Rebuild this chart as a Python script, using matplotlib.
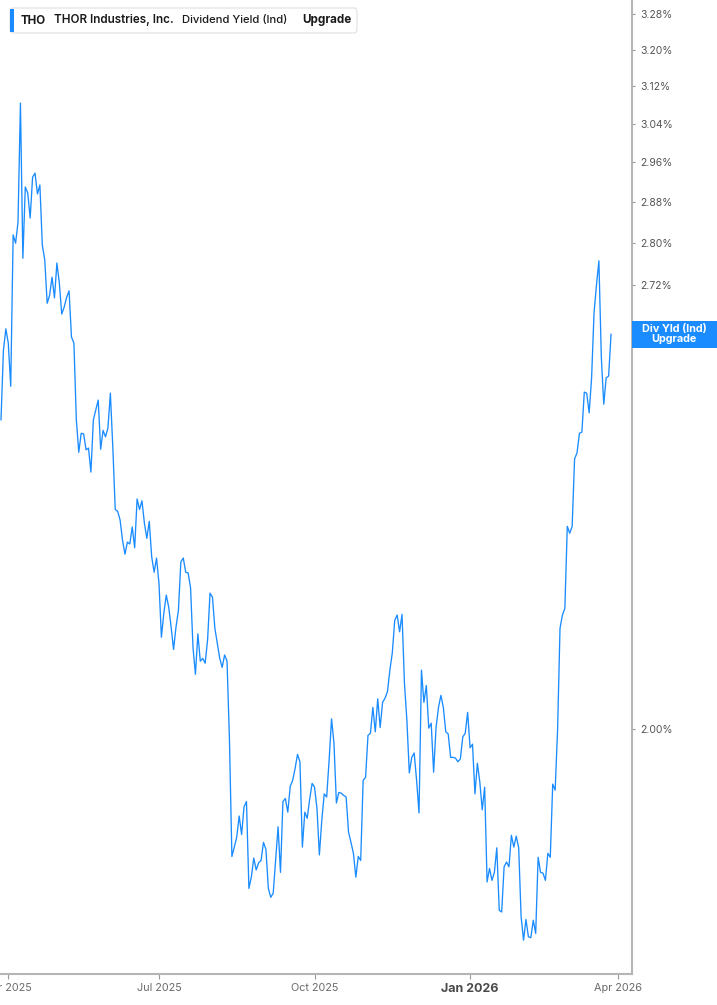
import numpy as np
import pandas as pd
import matplotlib
matplotlib.use('Agg')
import matplotlib.pyplot as plt
import matplotlib.transforms as mtransforms
from matplotlib.patches import Rectangle, FancyBboxPatch
from matplotlib.ticker import NullLocator, FuncFormatter

plt.rcParams['font.family'] = ['Inter', 'DejaVu Sans']

# Dividend yield (%) per trading day, 2025-03-27 .. 2026-03-27
yield_values = [
    2.477, 2.599, 2.638, 2.612, 2.535, 2.815, 2.799, 2.840, 3.084, 2.770,
    2.910, 2.898, 2.848, 2.930, 2.938, 2.896, 2.914, 2.795, 2.767, 2.685,
    2.700, 2.734, 2.695, 2.761, 2.723, 2.665, 2.678, 2.696, 2.708, 2.623,
    2.612, 2.477, 2.422, 2.454, 2.453, 2.426, 2.429, 2.389, 2.477, 2.494,
    2.511, 2.427, 2.459, 2.448, 2.463, 2.523, 2.431, 2.328, 2.325, 2.311,
    2.279, 2.257, 2.276, 2.273, 2.300, 2.267, 2.345, 2.328, 2.342, 2.306,
    2.282, 2.309, 2.253, 2.229, 2.251, 2.212, 2.131, 2.167, 2.194, 2.176,
    2.146, 2.113, 2.146, 2.171, 2.245, 2.251, 2.229, 2.228, 2.205, 2.116,
    2.077, 2.136, 2.096, 2.100, 2.093, 2.127, 2.197, 2.191, 2.144, 2.122,
    2.100, 2.087, 2.105, 2.096, 1.985, 1.831, 1.843, 1.856, 1.883, 1.859,
    1.895, 1.902, 1.791, 1.805, 1.829, 1.814, 1.823, 1.826, 1.849, 1.840,
    1.791, 1.780, 1.785, 1.826, 1.869, 1.811, 1.902, 1.906, 1.888, 1.922,
    1.930, 1.946, 1.965, 1.955, 1.843, 1.888, 1.880, 1.905, 1.926, 1.921,
    1.893, 1.833, 1.878, 1.912, 1.908, 1.957, 2.014, 1.980, 1.900, 1.914,
    1.913, 1.910, 1.908, 1.862, 1.849, 1.835, 1.805, 1.831, 1.826, 1.930,
    1.934, 1.991, 1.994, 2.030, 1.996, 2.042, 2.002, 2.037, 2.043, 2.052,
    2.083, 2.108, 2.156, 2.164, 2.139, 2.165, 2.064, 2.012, 1.940, 1.961,
    1.967, 1.930, 1.887, 2.083, 2.037, 2.061, 2.001, 2.008, 1.941, 2.002,
    2.030, 2.047, 2.030, 1.996, 1.993, 1.961, 1.961, 1.960, 1.955, 1.959,
    1.989, 1.994, 2.023, 1.974, 1.979, 1.912, 1.953, 1.928, 1.891, 1.921,
    1.799, 1.816, 1.801, 1.811, 1.842, 1.764, 1.762, 1.818, 1.824, 1.818,
    1.858, 1.843, 1.857, 1.842, 1.756, 1.728, 1.753, 1.732, 1.731, 1.752,
    1.736, 1.830, 1.811, 1.810, 1.801, 1.835, 1.830, 1.925, 1.917, 1.998,
    2.144, 2.164, 2.174, 2.301, 2.290, 2.301, 2.411, 2.421, 2.454, 2.456,
    2.525, 2.523, 2.489, 2.550, 2.667, 2.719, 2.765, 2.587, 2.504, 2.550,
    2.553, 2.628,
]

market_holidays = ['2025-04-18', '2025-05-26', '2025-06-19', '2025-07-04', '2025-09-01',
                   '2025-11-27', '2025-12-25', '2026-01-01', '2026-01-19', '2026-02-16']
tick_months = [(2025, 4), (2025, 7), (2025, 10), (2026, 1), (2026, 4)]
tick_labels = ['Apr 2025', 'Jul 2025', 'Oct 2025', 'Jan 2026', 'Apr 2026']
y_ticks = [2.00, 2.72, 2.80, 2.88, 2.96, 3.04, 3.12, 3.20, 3.28]

blue = '#1a8cff'

cal = pd.bdate_range('2025-03-27', '2026-04-10', freq='C', holidays=market_holidays)
dates = cal[:len(yield_values)]
x = np.arange(len(dates))

fig = plt.figure(figsize=(7.17, 10.05), dpi=100)
ax = fig.add_axes([0, 31 / 1005, 631.7 / 717, 974 / 1005])

ax.plot(x, yield_values, color=blue, lw=0.95)

ax.set_yscale('log')
ax.set_ylim(1.688, 3.312)
ax.set_xlim(-0.41, 259.5)

# y axis on the right
ax.yaxis.tick_right()
ax.yaxis.set_minor_locator(NullLocator())
ax.set_yticks(y_ticks)
ax.yaxis.set_major_formatter(FuncFormatter(lambda v, p: f'{v:.2f}%'))
ax.tick_params(axis='y', length=2, width=0.8, color='#999999', pad=4.5,
               labelsize=7.5, labelcolor='#555555')

# x axis: first trading day of each quarter
tick_pos = []
for (yy, mm) in tick_months:
    idx = np.where((cal.year == yy) & (cal.month == mm))[0][0]
    tick_pos.append(idx)
ax.set_xticks(tick_pos)
ax.set_xticklabels(tick_labels)
ax.xaxis.set_minor_locator(NullLocator())
ax.tick_params(axis='x', length=3.5, width=0.8, color='#999999', pad=3,
               labelsize=7.8, labelcolor='#6b6b6b')
for lbl in ax.get_xticklabels():
    if lbl.get_text() == 'Jan 2026':
        lbl.set_fontweight('bold')
        lbl.set_fontsize(9)
        lbl.set_color('#4a4a4a')

for side in ['left', 'top']:
    ax.spines[side].set_visible(False)
for side in ['bottom', 'right']:
    ax.spines[side].set_color('#b5b5b5')
    ax.spines[side].set_linewidth(1.5)

# legend box at top left
W, H = 717, 1005
leg = FancyBboxPatch((10 / W, 1 - 33 / H), 347 / W, 25 / H,
                     boxstyle='round,pad=0,rounding_size=0.004',
                     transform=fig.transFigure, facecolor='white',
                     edgecolor='#e0e0e0', lw=0.8)
fig.add_artist(leg)
bar = Rectangle((10 / W, 1 - 32 / H), 3.5 / W, 23 / H, transform=fig.transFigure,
                facecolor=blue, edgecolor='none')
fig.add_artist(bar)
ty = 1 - 20.5 / H
fig.text(20.5 / W, ty, 'THO', fontsize=8.4, fontweight='bold', color='#1a1a1a', va='center')
fig.text(54 / W, ty, 'THOR Industries, Inc.', fontsize=8.4, fontweight='semibold',
         color='#1a1a1a', va='center')
fig.text(181.5 / W, ty, 'Dividend Yield (Ind)', fontsize=8.1, fontweight='medium',
         color='#1a1a1a', va='center')
fig.text(302 / W, ty, 'Upgrade', fontsize=8.4, fontweight='bold', color='#1a1a1a', va='center')

# last value tag on the right axis
_, ypix = ax.transData.transform((x[-1], yield_values[-1]))
tag = Rectangle((631.7, ypix - 13.5), 85.3, 27, transform=mtransforms.IdentityTransform(),
                facecolor=blue, edgecolor='none')
fig.add_artist(tag)
fig.text(674 / W, ypix / H, 'Div Yld (Ind)\nUpgrade', fontsize=7.8, fontweight='bold',
         color='white', ha='center', va='center', linespacing=1.0)

fig.savefig('out.png', dpi=100)
